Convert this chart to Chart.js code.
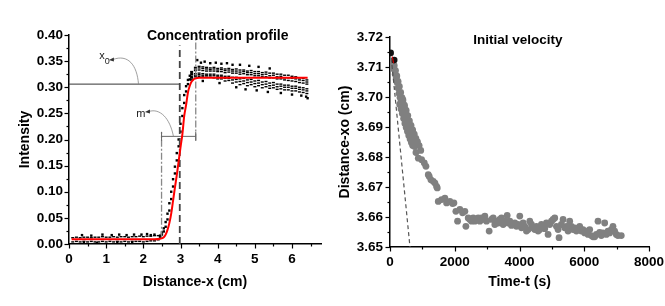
<!DOCTYPE html>
<html lang="en">
<head>
<meta charset="UTF-8">
<title>Concentration profile / Initial velocity</title>
<script src="https://cdn.jsdelivr.net/npm/chart.js"></script>
<style>
  body { margin: 0; background: #fff; }
  .panel { position: absolute; top: 0; }
</style>
</head>
<body>
<div class="panel" style="left:0"><canvas id="profileChart" width="330" height="306"></canvas></div>
<div class="panel" style="left:330px"><canvas id="velocityChart" width="335" height="306"></canvas></div>

<script>
// ---- left panel: concentration profile ----
const flatX = [0.1, 0.2, 0.3, 0.4, 0.5, 0.6, 0.7, 0.8, 0.9, 1.0, 1.1, 1.2,
               1.3, 1.4, 1.5, 1.6, 1.7, 1.8, 1.9, 2.0, 2.1, 2.2, 2.3, 2.4];
const flatLow = [0.004, 0.005, 0.004, 0.005, 0.004, 0.005, 0.004, 0.004, 0.005, 0.004, 0.005, 0.004,
                 0.005, 0.004, 0.005, 0.004, 0.005, 0.005, 0.005, 0.004, 0.005, 0.006, 0.006, 0.008];
const flatHigh = [0.012, 0.013, 0.012, 0.013, 0.013, 0.012, 0.013, 0.013, 0.014, 0.013, 0.013, 0.014,
                  0.013, 0.014, 0.014, 0.013, 0.014, 0.014, 0.015, 0.014, 0.015, 0.015, 0.016, 0.016];
const flatSpeckX = [0.35, 0.6, 0.9, 1.15, 1.35, 1.55, 1.75, 1.95, 2.1, 2.2, 2.3, 0.4, 0.75, 1.3, 1.7];
const flatSpeckY = [0.017, 0.016, 0.018, 0.017, 0.018, 0.017, 0.018, 0.018, 0.019, 0.017, 0.018, 0.002, 0.002, 0.003, 0.002];

const riseX = [2.45, 2.5, 2.55, 2.6, 2.65, 2.7, 2.75, 2.8, 2.85, 2.9, 2.95, 3.0, 3.05, 3.1, 3.15, 3.2, 3.25, 3.3];
const riseA = [0.014, 0.018, 0.024, 0.033, 0.047, 0.064, 0.086, 0.110, 0.135, 0.160, 0.187, 0.215, 0.245, 0.270, 0.292, 0.306, 0.315, 0.320];
const riseB = [0.016, 0.022, 0.030, 0.042, 0.058, 0.078, 0.100, 0.124, 0.148, 0.174, 0.200, 0.230, 0.260, 0.285, 0.302, 0.314, 0.322, 0.328];

const plateauX = [3.3, 3.4, 3.5, 3.6, 3.7, 3.8, 3.9, 4.0, 4.1, 4.2, 4.3, 4.4, 4.5, 4.6, 4.7, 4.8,
                  4.9, 5.0, 5.1, 5.2, 5.3, 5.4, 5.5, 5.6, 5.7, 5.8, 5.9, 6.0, 6.1, 6.2, 6.3, 6.4];
const plateauA = [0.330, 0.338, 0.340, 0.339, 0.338, 0.337, 0.338, 0.336, 0.337, 0.335, 0.336, 0.334, 0.335, 0.333, 0.333, 0.331,
                  0.332, 0.330, 0.330, 0.328, 0.329, 0.327, 0.327, 0.325, 0.325, 0.323, 0.323, 0.321, 0.320, 0.318, 0.317, 0.314];
const plateauE = [0.327, 0.335, 0.337, 0.336, 0.335, 0.334, 0.335, 0.333, 0.334, 0.332, 0.333, 0.331, 0.331, 0.329, 0.330, 0.328,
                  0.328, 0.326, 0.326, 0.324, 0.325, 0.322, 0.323, 0.320, 0.321, 0.318, 0.318, 0.317, 0.316, 0.314, 0.313, 0.310];
const plateauB = [0.324, 0.332, 0.333, 0.332, 0.331, 0.331, 0.331, 0.330, 0.330, 0.328, 0.329, 0.327, 0.327, 0.325, 0.326, 0.324,
                  0.324, 0.322, 0.322, 0.320, 0.320, 0.318, 0.318, 0.316, 0.316, 0.314, 0.313, 0.312, 0.311, 0.309, 0.308, 0.306];
const plateauC = [0.319, 0.326, 0.327, 0.326, 0.325, 0.325, 0.325, 0.323, 0.323, 0.321, 0.321, 0.319, 0.319, 0.316, 0.317, 0.314,
                  0.315, 0.312, 0.313, 0.310, 0.311, 0.308, 0.309, 0.306, 0.306, 0.304, 0.304, 0.302, 0.302, 0.300, 0.299, 0.297];
const plateauF = [0.316, 0.323, 0.324, 0.323, 0.322, 0.322, 0.322, 0.320, 0.320, 0.317, 0.317, 0.314, 0.315, 0.311, 0.312, 0.309,
                  0.310, 0.307, 0.308, 0.305, 0.306, 0.303, 0.304, 0.301, 0.302, 0.300, 0.300, 0.298, 0.298, 0.296, 0.295, 0.293];
const plateauD = [0.314, 0.320, 0.321, 0.320, 0.319, 0.319, 0.318, 0.316, 0.316, 0.312, 0.313, 0.308, 0.310, 0.305, 0.307, 0.303,
                  0.305, 0.301, 0.303, 0.299, 0.301, 0.298, 0.299, 0.296, 0.297, 0.295, 0.295, 0.293, 0.293, 0.291, 0.290, 0.288];
const plateauSpeckX = [3.45, 3.55, 3.65, 3.8, 3.95, 4.1, 4.25, 4.4, 4.6, 4.85, 5.1, 5.4,
                       3.6, 4.05, 4.5, 4.75, 5.05, 5.35, 5.7, 6.0, 6.25, 6.38, 6.42];
const plateauSpeckY = [0.352, 0.347, 0.349, 0.346, 0.347, 0.345, 0.346, 0.343, 0.343, 0.341, 0.339, 0.336,
                       0.312, 0.308, 0.300, 0.296, 0.294, 0.291, 0.289, 0.286, 0.284, 0.282, 0.279];

// fitted curve (red)
const fitX = [0.07, 0.5, 1, 1.5, 2, 2.3, 2.45, 2.55, 2.6, 2.65, 2.7, 2.75, 2.8, 2.85, 2.9, 2.95,
              3.0, 3.05, 3.1, 3.15, 3.2, 3.25, 3.3, 3.35, 3.4, 3.5, 3.7, 4, 5, 6, 6.42];
const fitY = [0.009, 0.009, 0.009, 0.009, 0.009, 0.009, 0.010, 0.013, 0.018, 0.027, 0.040, 0.058, 0.083, 0.108, 0.132, 0.158,
              0.185, 0.210, 0.245, 0.266, 0.290, 0.303, 0.311, 0.315, 0.317, 0.318, 0.318, 0.318, 0.318, 0.318, 0.318];

// guide lines
const x0Level = 0.306;
const x0Pos = 2.98;
const slopeLow = 2.49;
const slopeHigh = 3.41;
const slopeLevel = 0.206;

const profileXTicks = [0, 0.5, 1, 1.5, 2, 2.5, 3, 3.5, 4, 4.5, 5, 5.5, 6, 6.5];
const profileYTicks = [0, 0.025, 0.05, 0.075, 0.1, 0.125, 0.15, 0.175, 0.2, 0.225, 0.25, 0.275, 0.3, 0.325, 0.35, 0.375, 0.4];

// ---- right panel: initial velocity ----
const timeS = [
  10, 40, 70, 100, 130, 160, 190, 220, 250, 280, 310, 340, 370, 400, 430, 460, 490, 520, 560, 600, 640, 680, 720, 760,
  130, 170, 210, 250, 290, 330, 370, 410, 450, 490, 530, 570, 610, 650, 700, 740, 780, 820,
  300, 340, 380, 420, 460, 500, 540, 580, 620, 660, 700,
  400, 450, 500, 550, 600, 650, 700, 750, 800, 850, 900, 950,
  802, 874, 977, 1059, 1110, 1182, 1213, 1264, 1336, 1388, 1439, 1460, 1491, 1593, 1696, 1748, 1850, 1933, 1974,
  2035, 2087, 2159, 2241, 2313, 2344, 2416, 2467, 2519, 2570, 2621, 2673, 2724, 2776, 2827, 2878, 2930, 2981,
  3063, 3135, 3187, 3238, 3290, 3341, 3392, 3444, 3495, 3547, 3619, 3649, 3701, 3752, 3804, 3855, 3906, 3958,
  4009, 4061, 4112, 4163, 4215, 4266, 4318, 4369, 4420, 4472, 4523, 4575, 4626, 4677, 4729, 4780, 4832, 4883, 4934, 4986,
  5037, 5089, 5140, 5191, 5222, 5294, 5346, 5397, 5448, 5500, 5551, 5603, 5654, 5705, 5757, 5808, 5860, 5911, 5962,
  6014, 6065, 6117, 6168, 6219, 6271, 6322, 6374, 6425, 6476, 6528, 6579, 6631, 6682, 6733, 6785, 6836, 6887, 6939, 6990,
  7041, 7144
];
const distXo = [
  3.7115, 3.7110, 3.7108, 3.7098, 3.7092, 3.7076, 3.7063, 3.7048, 3.7030, 3.7012, 3.6998, 3.6985, 3.6968, 3.6955, 3.6945, 3.6932, 3.6918, 3.6905, 3.6892, 3.6880, 3.6870, 3.6858, 3.6845, 3.6835,
  3.7105, 3.7088, 3.7070, 3.7052, 3.7035, 3.7015, 3.6998, 3.6978, 3.6962, 3.6945, 3.6928, 3.6912, 3.6898, 3.6885, 3.6868, 3.6855, 3.6860, 3.6848,
  3.6975, 3.6960, 3.6945, 3.6928, 3.6912, 3.6898, 3.6885, 3.6872, 3.6860, 3.6848, 3.6838,
  3.6990, 3.6972, 3.6955, 3.6938, 3.6920, 3.6905, 3.6890, 3.6876, 3.6862, 3.6850, 3.6838, 3.6822,
  3.6815, 3.6796, 3.6791, 3.6780, 3.6769, 3.6741, 3.6735, 3.6724, 3.6719, 3.6713, 3.6702, 3.6697, 3.6652, 3.6658, 3.6663, 3.6647, 3.6652, 3.6645, 3.6647,
  3.6619, 3.6586, 3.6625, 3.6614, 3.6619, 3.6569, 3.6597, 3.6592, 3.6586, 3.6597, 3.6586, 3.6592, 3.6597, 3.6586, 3.6597, 3.6592, 3.6603, 3.6586,
  3.6553, 3.6592, 3.6597, 3.6575, 3.6586, 3.6580, 3.6592, 3.6597, 3.6575, 3.6586, 3.6605, 3.6580, 3.6586, 3.6572, 3.6575, 3.6580, 3.6569, 3.6575,
  3.6603, 3.6564, 3.6580, 3.6569, 3.6553, 3.6558, 3.6586, 3.6575, 3.6564, 3.6558, 3.6569, 3.6553, 3.6558, 3.6575, 3.6569, 3.6561, 3.6580, 3.6542, 3.6575, 3.6586,
  3.6592, 3.6597, 3.6569, 3.6558, 3.6531, 3.6575, 3.6592, 3.6564, 3.6569, 3.6553, 3.6586, 3.6569, 3.6558, 3.6564, 3.6553, 3.6558, 3.6569, 3.6553, 3.6558,
  3.6547, 3.6553, 3.6542, 3.6558, 3.6538, 3.6534, 3.6534, 3.6542, 3.6586, 3.6549, 3.6538, 3.6547, 3.6580, 3.6542, 3.6553, 3.6547, 3.6558, 3.6569, 3.6553, 3.6542,
  3.6538, 3.6538
];
const firstT = [20, 130];
const firstD = [3.7147, 3.7123];
const tangentT = [40, 617];
const tangentD = [3.713, 3.65];
const startFitT = [70, 110];
const startFitD = [3.7135, 3.7113];

const velocityXTicks = [0, 1000, 2000, 3000, 4000, 5000, 6000, 7000, 8000];
const velocityYTicks = [3.65, 3.655, 3.66, 3.665, 3.67, 3.675, 3.68, 3.685, 3.69, 3.695, 3.7, 3.705, 3.71, 3.715, 3.72];

// ---- helpers ----
const FONT = '"Liberation Sans", Arial, sans-serif';
Chart.defaults.font.family = FONT;
Chart.defaults.color = '#000';

function pts(xs, ys) {
  return xs.map((x, i) => ({ x: x, y: ys[i] }));
}

function isMajor(v, step) {
  return Math.abs(v / step - Math.round(v / step)) < 1e-6;
}

// major / minor tick marks drawn outside the axes
const tickMarks = {
  id: 'tickMarks',
  afterDraw(chart, args, opts) {
    const ctx = chart.ctx;
    const area = chart.chartArea;
    ctx.save();
    ctx.strokeStyle = '#000';
    ctx.lineWidth = 1.2;
    ['x', 'y'].forEach(id => {
      const scale = chart.scales[id];
      scale.ticks.forEach(t => {
        const len = isMajor(t.value, opts[id]) ? 4.5 : 2.5;
        const p = Math.round(scale.getPixelForValue(t.value)) + 0.5;
        ctx.beginPath();
        if (id === 'x') {
          ctx.moveTo(p, area.bottom);
          ctx.lineTo(p, area.bottom + len);
        } else {
          ctx.moveTo(area.left, p);
          ctx.lineTo(area.left - len, p);
        }
        ctx.stroke();
      });
    });
    ctx.restore();
  }
};

function arrowCurve(ctx, P, c) {
  const a = P(c[0], c[1]), b = P(c[2], c[3]), d = P(c[4], c[5]), e = P(c[6], c[7]);
  ctx.beginPath();
  ctx.moveTo(a[0], a[1]);
  ctx.bezierCurveTo(b[0], b[1], d[0], d[1], e[0], e[1]);
  ctx.stroke();
  ctx.beginPath();
  ctx.moveTo(a[0] - 4, a[1] + 0.5);
  ctx.lineTo(a[0] + 1, a[1] - 2);
  ctx.lineTo(a[0] + 1, a[1] + 2);
  ctx.closePath();
  ctx.fill();
}

const profileNotes = {
  id: 'profileNotes',
  afterDatasetsDraw(chart) {
    const { ctx, scales: { x, y } } = chart;
    const P = (a, b) => [x.getPixelForValue(a), y.getPixelForValue(b)];
    ctx.save();
    ctx.textAlign = 'center';
    ctx.textBaseline = 'middle';
    ctx.fillStyle = '#000';
    ctx.font = 'bold 14px ' + FONT;
    ctx.fillText('Concentration profile', ...P(4.0, 0.397));
    ctx.fillStyle = '#222';
    ctx.font = '11px ' + FONT;
    ctx.fillText('x', ...P(0.89, 0.359));
    ctx.fillText('m', ...P(1.935, 0.249));
    ctx.font = '9px ' + FONT;
    ctx.fillText('0', ...P(1.03, 0.350));
    ctx.strokeStyle = '#888';
    ctx.fillStyle = '#333';
    ctx.lineWidth = 0.8;
    arrowCurve(ctx, P, [1.18, 0.353, 1.585, 0.364, 1.83, 0.343, 1.87, x0Level]);
    arrowCurve(ctx, P, [2.15, 0.2536, 2.446, 0.2603, 2.715, 0.2411, 2.81, slopeLevel]);
    ctx.restore();
  }
};

const velocityNotes = {
  id: 'velocityNotes',
  afterDatasetsDraw(chart) {
    const { ctx, scales: { x, y } } = chart;
    ctx.save();
    ctx.textAlign = 'center';
    ctx.textBaseline = 'middle';
    ctx.fillStyle = '#000';
    ctx.font = 'bold 13.5px ' + FONT;
    ctx.fillText('Initial velocity', x.getPixelForValue(3950), y.getPixelForValue(3.7189));
    ctx.restore();
  }
};

function axis(opts) {
  const s = {
    type: 'linear',
    min: opts.min,
    max: opts.max,
    grid: { display: false, drawTicks: false },
    border: { display: true, color: '#000', width: 1.5 },
    afterBuildTicks: scale => { scale.ticks = opts.ticks.map(v => ({ value: v })); },
    ticks: {
      autoSkip: false,
      maxRotation: 0,
      padding: opts.pad,
      font: { size: 13.5, weight: 'bold' },
      callback: v => isMajor(v, opts.major) ? v.toFixed(opts.digits) : ''
    },
    title: {
      display: true,
      text: opts.title,
      font: { size: 14, weight: 'bold' },
      padding: { top: 4, bottom: 4 }
    }
  };
  if (opts.width) s.afterFit = scale => { scale.width = opts.width; };
  if (opts.height) {
    s.afterFit = scale => {
      scale.height = opts.height;
      scale.paddingLeft = 0;
      scale.paddingRight = 0;
    };
  }
  return s;
}

const measured = [].concat(
  pts(flatX, flatLow), pts(flatX, flatHigh),
  pts(plateauX, plateauA), pts(plateauX, plateauE), pts(plateauX, plateauB),
  pts(plateauX, plateauC), pts(plateauX, plateauF), pts(plateauX, plateauD)
);
const scattered = [].concat(
  pts(flatSpeckX, flatSpeckY), pts(riseX, riseA), pts(riseX, riseB), pts(plateauSpeckX, plateauSpeckY)
);

new Chart(document.getElementById('profileChart'), {
  type: 'scatter',
  data: {
    datasets: [
      { data: pts(fitX, fitY), showLine: true, pointRadius: 0, borderColor: '#ff0000', borderWidth: 2,
        cubicInterpolationMode: 'monotone', order: 0 },
      { data: measured, showLine: false, pointStyle: 'line', pointRadius: 1.5, pointBorderWidth: 1.4,
        pointBorderColor: '#000', order: 5 },
      { data: scattered, showLine: false, pointStyle: 'rect', pointRadius: 1.7, pointBorderWidth: 0,
        pointBackgroundColor: '#000', order: 5 },
      { data: pts([0, x0Pos], [x0Level, x0Level]), showLine: true, pointRadius: 0,
        borderColor: '#333', borderWidth: 1, order: 4 },
      { data: pts([x0Pos, x0Pos], [0, 0.38]), showLine: true, pointRadius: 0,
        borderColor: '#444', borderWidth: 1.8, borderDash: [7, 4], order: 1 },
      { data: pts([slopeLow, slopeLow], [0.012, 0.214]), showLine: true, pointRadius: 0,
        borderColor: '#888', borderWidth: 1.3, borderDash: [7, 2, 2, 2], order: 3 },
      { data: pts([slopeHigh, slopeHigh], [0.198, 0.40]), showLine: true, pointRadius: 0,
        borderColor: '#888', borderWidth: 1.3, borderDash: [7, 2, 2, 2], order: 3 },
      { data: pts([slopeLow, slopeHigh], [slopeLevel, slopeLevel]), showLine: true,
        pointStyle: 'line', rotation: 90, pointRadius: 4.5, pointBorderColor: '#666', pointBorderWidth: 1,
        borderColor: '#666', borderWidth: 1, order: 2 }
    ]
  },
  options: {
    responsive: false,
    animation: false,
    events: [],
    layout: { padding: { left: 13, right: 9, top: 35, bottom: 11 } },
    plugins: { legend: { display: false }, tooltip: { enabled: false }, tickMarks: { x: 1, y: 0.05 } },
    scales: {
      x: axis({ min: 0, max: 6.78, ticks: profileXTicks, major: 1, digits: 0, pad: 7,
                title: 'Distance-x (cm)', height: 51 }),
      y: axis({ min: 0, max: 0.4, ticks: profileYTicks, major: 0.05, digits: 2, pad: 6,
                title: 'Intensity', width: 56 })
    }
  },
  plugins: [tickMarks, profileNotes]
});

new Chart(document.getElementById('velocityChart'), {
  type: 'scatter',
  data: {
    datasets: [
      { data: pts(startFitT, startFitD), showLine: true, pointRadius: 0, borderColor: '#d00000', borderWidth: 1.2, order: 0 },
      { data: pts(tangentT, tangentD), showLine: true, pointRadius: 0, borderColor: '#555',
        borderWidth: 1.2, borderDash: [4, 3], order: 1 },
      { data: pts(firstT, firstD), showLine: false, pointRadius: 3.3, pointBorderWidth: 0,
        pointBackgroundColor: '#111', order: 2 },
      { data: pts(timeS, distXo), showLine: false, pointRadius: 3.4, pointBorderWidth: 0,
        pointBackgroundColor: '#808080', order: 3 }
    ]
  },
  options: {
    responsive: false,
    animation: false,
    events: [],
    layout: { padding: { left: 3, right: 16, top: 37, bottom: 11 } },
    plugins: { legend: { display: false }, tooltip: { enabled: false }, tickMarks: { x: 2000, y: 0.01 } },
    scales: {
      x: axis({ min: 0, max: 8000, ticks: velocityXTicks, major: 2000, digits: 0, pad: 7,
                title: 'Time-t (s)', height: 48 }),
      y: axis({ min: 3.65, max: 3.72, ticks: velocityYTicks, major: 0.01, digits: 2, pad: 7,
                title: 'Distance-xo (cm)', width: 57 })
    }
  },
  plugins: [tickMarks, velocityNotes]
});
</script>
</body>
</html>
